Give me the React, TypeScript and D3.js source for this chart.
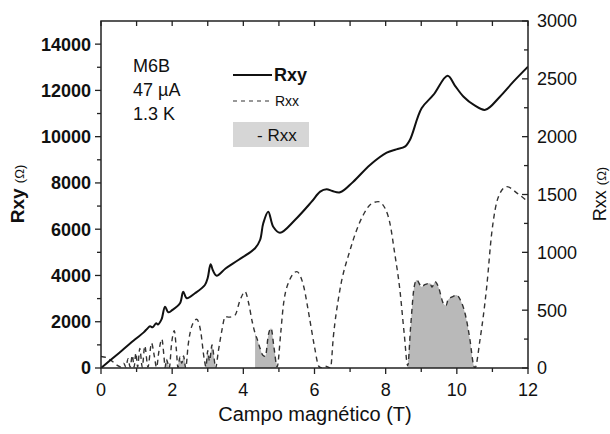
import React from "react";
import * as d3 from "d3";

const rxyField = [0, 0.5, 0.96, 1.2, 1.3, 1.38, 1.45, 1.55, 1.6, 1.7, 1.8, 1.89, 2.0, 2.22, 2.31, 2.41, 2.64, 2.92, 3.0, 3.08, 3.15, 3.25, 3.5, 3.86, 4.33, 4.47, 4.56, 4.7, 4.84, 5.03, 5.45, 5.92, 6.16, 6.34, 6.5, 6.72, 7.09, 7.56, 8.03, 8.3, 8.54, 8.68, 9.01, 9.34, 9.74, 9.95, 10.19, 10.5, 10.8, 11.21, 11.59, 12.0];
const rxyValue = [0, 640, 1240, 1540, 1700, 1800, 1760, 1930, 1880, 2100, 2650, 2408, 2500, 2797, 3298, 3013, 3229, 3588, 3900, 4483, 4200, 3990, 4300, 4669, 5175, 5533, 6255, 6757, 6108, 5849, 6398, 7189, 7622, 7725, 7650, 7594, 8054, 8776, 9308, 9450, 9567, 9856, 11227, 11802, 12636, 12200, 11728, 11350, 11160, 11728, 12377, 13025];

const rxxField = [0, 0.15, 0.3, 0.45, 0.55, 0.64, 0.7, 0.76, 0.82, 0.88, 0.93, 0.98, 1.03, 1.09, 1.16, 1.23, 1.32, 1.42, 1.5, 1.56, 1.63, 1.71, 1.77, 1.8, 1.84, 1.88, 1.92, 1.98, 2.06, 2.12, 2.16, 2.22, 2.27, 2.32, 2.38, 2.45, 2.55, 2.69, 2.8, 2.9, 2.95, 3.0, 3.05, 3.12, 3.18, 3.22, 3.3, 3.4, 3.49, 3.6, 3.77, 3.9, 4.05, 4.15, 4.25, 4.33, 4.4, 4.47, 4.55, 4.62, 4.7, 4.78, 4.86, 4.95, 5.05, 5.12, 5.3, 5.5, 5.7, 5.85, 6.0, 6.12, 6.2, 6.3, 6.4, 6.45, 6.53, 6.7, 7.0, 7.37, 7.6, 7.79, 8.0, 8.12, 8.25, 8.4, 8.52, 8.62, 8.7, 8.8, 8.87, 9.01, 9.1, 9.25, 9.3, 9.39, 9.48, 9.62, 9.7, 9.75, 9.9, 9.99, 10.1, 10.23, 10.37, 10.46, 10.51, 10.65, 10.84, 10.98, 11.17, 11.4, 11.7, 12.0];
const rxxValue = [100, 90, 62, 25, 10, 40, 8, 80, 8, 110, 8, 130, 8, 170, 8, 190, 8, 215, 100, 5, 150, 250, 100, 5, 75, 40, 0, 200, 323, 150, 5, 95, 40, 105, 0, 200, 360, 421, 320, 80, 10, 150, 60, 200, 80, 0, 150, 330, 444, 440, 458, 580, 660, 560, 400, 300, 240, 170, 110, 100, 280, 343, 180, 10, 300, 530, 760, 833, 700, 450, 184, 15, 0, 15, 5, 0, 271, 650, 1020, 1323, 1420, 1438, 1370, 1251, 1000, 674, 300, 20, 350, 700, 761, 703, 720, 732, 700, 746, 703, 559, 540, 588, 620, 631, 588, 473, 242, 40, 0, 242, 703, 1165, 1481, 1568, 1510, 1438];

const shadedStart = [1.8, 2.16, 2.95, 4.33, 8.62];
const shadedEnd = [1.92, 2.38, 3.22, 4.95, 10.51];

const xTicks = [0, 2, 4, 6, 8, 10, 12];
const leftTicks = [0, 2000, 4000, 6000, 8000, 10000, 12000, 14000];
const rightTicks = [0, 500, 1000, 1500, 2000, 2500, 3000];
const infoLines = ["M6B", "47 µA", "1.3 K"];

const W = 610, H = 434;
const L = 101, R = 528, T = 21, B = 368;
const FONT = "'Liberation Sans', Arial, sans-serif";

export default function App() {
  const x = d3.scaleLinear().domain([0, 12]).range([L, R]);
  const yL = d3.scaleLinear().domain([0, 15000]).range([B, T]);
  const yR = d3.scaleLinear().domain([0, 3000]).range([B, T]);

  const rxy = rxyField.map((f, i) => [f, rxyValue[i]] as [number, number]);
  const rxx = rxxField.map((f, i) => [f, rxxValue[i]] as [number, number]);

  const lineXY = d3.line<[number, number]>().x(d => x(d[0])).y(d => yL(d[1])).curve(d3.curveCatmullRom.alpha(0.5));
  const lineXX = d3.line<[number, number]>().x(d => x(d[0])).y(d => yR(d[1])).curve(d3.curveMonotoneX);
  const areaXX = d3.area<[number, number]>().x(d => x(d[0])).y0(yR(0)).y1(d => yR(d[1])).curve(d3.curveMonotoneX);

  const minorX = d3.range(1, 12, 2);
  const allX = d3.range(0, 13, 1);
  const minorL = d3.range(1000, 15000, 2000);
  const minorR = d3.range(250, 3000, 500);

  return (
    <div style={{ position: "absolute", left: 0, top: 0 }}>
      <svg width={W} height={H} style={{ display: "block", background: "#fff" }} fontFamily={FONT}>
        <defs>
          <clipPath id="plot">
            <rect x={L} y={T} width={R - L} height={B - T} />
          </clipPath>
        </defs>
        <g clipPath="url(#plot)">
          {shadedStart.map((s, i) => (
            <path key={i} d={areaXX(rxx.filter(p => p[0] >= s - 1e-9 && p[0] <= shadedEnd[i] + 1e-9)) || ""} fill="#b9b9b9" />
          ))}
          <path d={lineXX(rxx) || ""} fill="none" stroke="#333" strokeWidth={1.4} strokeDasharray="5,4" />
          <path d={lineXY(rxy) || ""} fill="none" stroke="#111" strokeWidth={2} />
        </g>
        <rect x={L} y={T} width={R - L} height={B - T} fill="none" stroke="#222" strokeWidth={1.5} />
        {xTicks.map(t => (
          <g key={"bx" + t}>
            <line x1={x(t)} x2={x(t)} y1={B} y2={B + 6} stroke="#222" strokeWidth={1.3} />
            <text x={x(t)} y={396} textAnchor="middle" fontSize={18} fill="#111">{t}</text>
          </g>
        ))}
        {minorX.map(t => (
          <line key={"mx" + t} x1={x(t)} x2={x(t)} y1={B} y2={B + 4} stroke="#222" strokeWidth={1.3} />
        ))}
        {allX.map(t => (
          <line key={"tx" + t} x1={x(t)} x2={x(t)} y1={T} y2={T + 5} stroke="#222" strokeWidth={1.3} />
        ))}
        {leftTicks.map(t => (
          <g key={"l" + t}>
            <line x1={L - 6} x2={L} y1={yL(t)} y2={yL(t)} stroke="#222" strokeWidth={1.3} />
            <text x={91} y={yL(t)} dy="0.36em" textAnchor="end" fontSize={18} fontWeight="bold" fill="#111">{t}</text>
          </g>
        ))}
        {minorL.map(t => (
          <line key={"ml" + t} x1={L - 4} x2={L} y1={yL(t)} y2={yL(t)} stroke="#222" strokeWidth={1.3} />
        ))}
        {rightTicks.map(t => (
          <g key={"r" + t}>
            <line x1={R - 6} x2={R} y1={yR(t)} y2={yR(t)} stroke="#222" strokeWidth={1.3} />
            <text x={537} y={yR(t)} dy="0.36em" textAnchor="start" fontSize={18} fill="#111">{t}</text>
          </g>
        ))}
        {minorR.map(t => (
          <line key={"mr" + t} x1={R - 4} x2={R} y1={yR(t)} y2={yR(t)} stroke="#222" strokeWidth={1.3} />
        ))}
        <text x={315} y={421} textAnchor="middle" fontSize={20} fill="#111">Campo magnético (T)</text>
        <text transform="translate(24,194) rotate(-90)" textAnchor="middle" fill="#111">
          <tspan fontSize={19} fontWeight="bold">Rxy </tspan>
          <tspan fontSize={13}>(Ω)</tspan>
        </text>
        <text transform="translate(606,194) rotate(-90)" textAnchor="middle" fill="#111">
          <tspan fontSize={18}>Rxx </tspan>
          <tspan fontSize={13}>(Ω)</tspan>
        </text>
        {infoLines.map((s, i) => (
          <text key={s} x={133} y={72 + i * 24} fontSize={18} fill="#111">{s}</text>
        ))}
        <line x1={233} x2={272} y1={75} y2={75} stroke="#111" strokeWidth={2} />
        <text x={274} y={81} fontSize={18} fontWeight="bold" fill="#111">Rxy</text>
        <line x1={233} x2={272} y1={101} y2={101} stroke="#333" strokeWidth={1.2} strokeDasharray="4,4" />
        <text x={275} y={106} fontSize={14} fill="#111">Rxx</text>
        <rect x={233} y={122} width={76} height={25} fill="#d6d6d6" />
        <text x={257} y={141} fontSize={17} fill="#111">- Rxx</text>
      </svg>
    </div>
  );
}
